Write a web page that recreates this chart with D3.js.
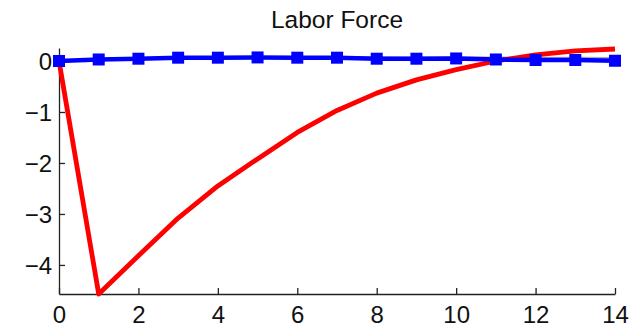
<!DOCTYPE html>
<html>
<head>
<meta charset="utf-8">
<script src="https://cdn.jsdelivr.net/npm/d3@7"></script>
<style>
  body { margin: 0; background: #fff; }
  svg text { font-family: Arial, "Liberation Sans", sans-serif; fill: #111; }
</style>
</head>
<body>
<div id="chart"></div>
<script>
var periods = [0, 1, 2, 3, 4, 5, 6, 7, 8, 9, 10, 11, 12, 13, 14];
var red_vals = [0, -4.57, -3.82, -3.08, -2.45, -1.92, -1.40, -0.97, -0.63, -0.37, -0.17, 0.0, 0.12, 0.20, 0.235];
var blue_vals = [0, 0.03, 0.045, 0.065, 0.065, 0.07, 0.065, 0.065, 0.045, 0.045, 0.05, 0.03, 0.02, 0.02, 0.005];
var gray_vals = [0, 0.035, 0.05, 0.065, 0.07, 0.075, 0.075, 0.075, 0.075, 0.07, 0.07, 0.07, 0.065, 0.065, 0.06];
var x_ticks = [0, 2, 4, 6, 8, 10, 12, 14];
var y_ticks = [-4, -3, -2, -1, 0];

var width = 639, height = 328;

var svg = d3.select('#chart').append('svg')
    .attr('width', width)
    .attr('height', height);

// axis limits are tight to the data, like the original
var x = d3.scaleLinear().domain([0, 14]).range([59, 615]);
var y = d3.scaleLinear().domain([-4.57, 0.255]).range([294, 48]);

// title
svg.append('text')
    .attr('x', 337)
    .attr('y', 28)
    .attr('text-anchor', 'middle')
    .style('font-size', '24.5px')
    .text('Labor Force');

// axes, ticks pointing inward
var xAxis = svg.append('g')
    .attr('transform', 'translate(0,' + y.range()[0] + ')')
    .call(d3.axisBottom(x).tickValues(x_ticks).tickSizeInner(-6).tickSizeOuter(0).tickPadding(11.5));
var yAxis = svg.append('g')
    .attr('transform', 'translate(' + x.range()[0] + ',0)')
    .call(d3.axisLeft(y).tickValues(y_ticks).tickSizeInner(-6).tickSizeOuter(0).tickPadding(7)
        .tickFormat(d => d < 0 ? '\u2212' + Math.abs(d) : d));

[xAxis, yAxis].forEach(function(g) {
    g.select('.domain').attr('stroke', '#222').attr('stroke-width', 1.3);
    g.selectAll('.tick line').attr('stroke', '#222').attr('stroke-width', 1.3);
    g.selectAll('.tick text').style('font-size', '24px').attr('fill', '#111');
});
xAxis.selectAll('.tick text').attr('dy', '0.71em');
yAxis.selectAll('.tick text').attr('dy', '0.36em');

var line = d3.line()
    .x((d, i) => x(periods[i]))
    .y(d => y(d));

svg.append('path')
    .datum(gray_vals)
    .attr('d', line)
    .attr('fill', 'none')
    .attr('stroke', '#aaa')
    .attr('stroke-width', 2);

svg.append('path')
    .datum(red_vals)
    .attr('d', line)
    .attr('fill', 'none')
    .attr('stroke', '#ff0000')
    .attr('stroke-width', 4.8)
    .attr('stroke-linejoin', 'round');

svg.append('path')
    .datum(blue_vals)
    .attr('d', line)
    .attr('fill', 'none')
    .attr('stroke', '#0000ff')
    .attr('stroke-width', 4.5);

var ms = 12;
svg.selectAll('rect.marker')
    .data(blue_vals)
    .enter().append('rect')
    .classed('marker', true)
    .attr('x', (d, i) => x(periods[i]) - ms / 2)
    .attr('y', d => y(d) - ms / 2)
    .attr('width', ms)
    .attr('height', ms)
    .style('fill', '#0000ff');
</script>
</body>
</html>
